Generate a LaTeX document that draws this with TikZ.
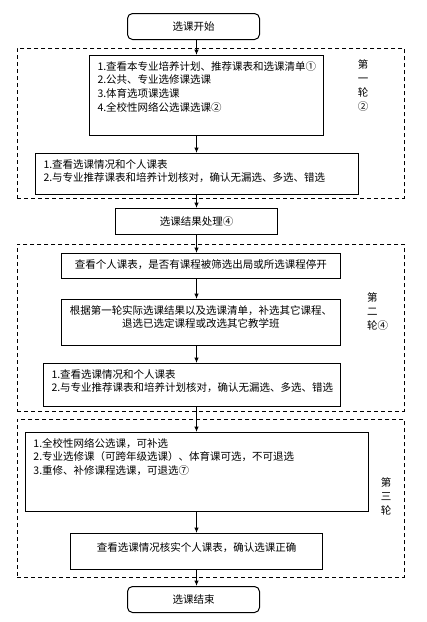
\documentclass[tikz,border=0pt]{standalone}
\usepackage{fontspec}
\setmainfont{Noto Sans CJK SC}
\usetikzlibrary{arrows.meta}
\newcommand{\toplines}[2]{\parbox[c][#1][t]{\linewidth}{\strut#2}}

\begin{document}
\begin{tikzpicture}[
  x=1pt, y=-1pt,
  font=\fontsize{10.5}{13.8}\selectfont,
  box/.style={draw, line width=1pt, anchor=north west, inner xsep=8pt, inner ysep=5pt, align=left},
  endbox/.style={draw, line width=1pt, anchor=north west, rounded corners=5pt, minimum width=132pt, minimum height=26pt},
  frame/.style={draw, line width=0.9pt, dash pattern=on 4pt off 3pt, anchor=north west},
  lab/.style={align=center, inner sep=0pt, font=\fontsize{10.5}{14}\selectfont},
  arr/.style={-{Latex[length=5.5pt,width=4.5pt]}, line width=1pt}
]
\useasboundingbox (0,0) rectangle (427,622);
\coordinate (axis) at (196.5,0);

% dashed frames for the three rounds
\node[frame, minimum width=387pt, minimum height=150pt] (round1) at (17,48) {};
\node[frame, minimum width=387pt, minimum height=167pt] (round2) at (17,244) {};
\node[frame, minimum width=387pt, minimum height=158pt] (round3) at (17,419) {};

\node[endbox] (start) at (127,13) {选课开始};

% round 1
\node[box, text width=218pt, minimum width=234pt] (b1) at (89,55)
  {\toplines{70pt}{1.查看本专业培养计划、推荐课表和选课清单①\\2.公共、专业选修课选课\\3.体育选项课选课\\4.全校性网络公选课选课②}};
\node[box, text width=307pt, minimum width=323pt] (b2) at (35,153)
  {\toplines{31pt}{1.查看选课情况和个人课表\\2.与专业推荐课表和培养计划核对，确认无漏选、多选、错选}};
\node[lab] (l1) at (363,86) {第\\一\\轮\\②};

\node[box, align=center, minimum width=162pt, minimum height=26pt, inner ysep=0pt] (b3) at (115,208) {选课结果处理④};

% round 2
\node[box, text width=263pt, minimum width=279pt] (b4) at (61,253)
  {\toplines{15pt}{\centering 查看个人课表，是否有课程被筛选出局或所选课程停开}};
\node[box, text width=263pt, minimum width=279pt] (b5) at (61,299)
  {\toplines{36pt}{\centering 根据第一轮实际选课结果以及选课清单，补选其它课程、\\退选已选定课程或改选其它教学班}};
\node[box, text width=281pt, minimum width=297pt] (b6) at (43,363)
  {\toplines{33pt}{1.查看选课情况和个人课表\\2.与专业推荐课表和培养计划核对，确认无漏选、多选、错选}};
\node[lab, align=left, anchor=west] (l2) at (367,312) {第\\二\\轮④};

% round 3
\node[box, text width=327pt, minimum width=343pt] (b7) at (25,432)
  {\toplines{69pt}{1.全校性网络公选课，可补选\\2.专业选修课（可跨年级选课）、体育课可选，不可退选\\3.重修、补修课程选课，可退选⑦}};
\node[box, text width=236pt, minimum width=252pt, inner ysep=8pt] (b8) at (70,533)
  {\toplines{20pt}{\centering 查看选课情况核实个人课表，确认选课正确}};
\node[lab] (l3) at (386,496) {第\\三\\轮};

\node[endbox] (end) at (127,586) {选课结束};

\foreach \a/\b in {start/b1, b1/b2, b2/b3, b3/b4, b4/b5, b5/b6, b6/b7, b7/b8, b8/end}
  \draw[arr] (\a.south -| axis) -- (\b.north -| axis);
\end{tikzpicture}
\end{document}
